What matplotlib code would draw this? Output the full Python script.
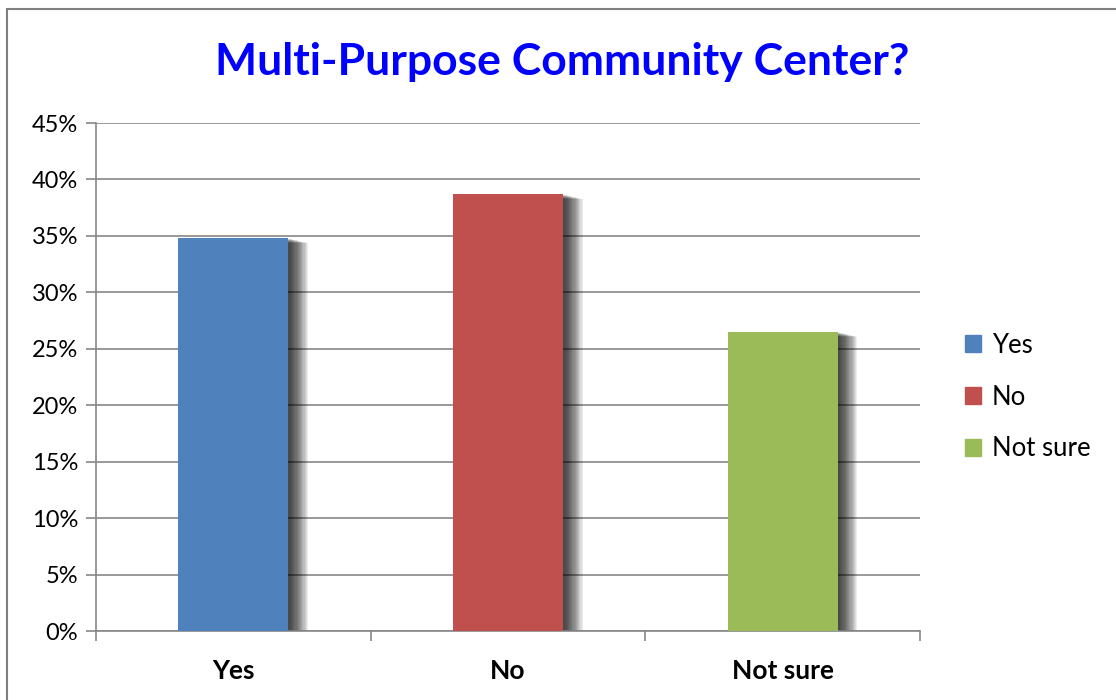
import matplotlib.pyplot as plt
from matplotlib.patches import Rectangle
from matplotlib.ticker import PercentFormatter

categories = ["Yes", "No", "Not sure"]
values = [34.8, 38.7, 26.5]
colors = ["#4F81BD", "#C0504D", "#9BBB59"]
y_ticks = [0, 5, 10, 15, 20, 25, 30, 35, 40, 45]

plt.rcParams['font.family'] = ['Lato', 'DejaVu Sans']

fig = plt.figure(figsize=(11.16, 7), dpi=100)
ax = fig.add_axes([96 / 1116, 69 / 700, 824 / 1116, 508 / 700])

# chart frame
fig.patches.append(Rectangle((7 / 1116, -0.01), 1.1, 1 - 9 / 700 + 0.01,
                             transform=fig.transFigure, fill=False,
                             edgecolor='#7f7f7f', linewidth=1.5))

x = list(range(len(categories)))
width = 0.4

# soft shadow behind bars
for i, v in enumerate(values):
    for k in range(16):
        off = 0.003 + k * 0.0014
        ax.add_patch(Rectangle((i - width / 2 + off * 3, -0.4), width, v + 0.4 - off * 18,
                               facecolor='black', alpha=0.07, linewidth=0, zorder=2))

bars = ax.bar(x, values, width=width, color=colors, zorder=3, label=None)

ax.set_xlim(-0.5, 2.5)
ax.set_ylim(0, 45)
ax.set_yticks(y_ticks)
ax.yaxis.set_major_formatter(PercentFormatter(decimals=0))
ax.set_xticks([-0.5, 0.5, 1.5, 2.5], minor=False)
ax.set_xticklabels([])
ax.set_xticks(x, minor=True)
ax.set_xticklabels(categories, minor=True, fontsize=19, fontweight='bold')
ax.tick_params(axis='x', which='minor', length=0, pad=20)
ax.tick_params(axis='x', which='major', length=7, color='#878787', width=1.2)
ax.tick_params(axis='y', length=7, color='#878787', width=1.2, labelsize=17, pad=6)

ax.grid(axis='y', color='#878787', linewidth=1.2, zorder=0)
for side in ['top', 'right']:
    ax.spines[side].set_visible(False)
for side in ['left', 'bottom']:
    ax.spines[side].set_color('#878787')
    ax.spines[side].set_linewidth(1.2)

fig.text(562 / 1116, 1 - 62 / 700, "Multi-Purpose Community Center?", ha='center', va='center',
         fontsize=32, fontweight='bold', color='#0000FF')

handles = [Rectangle((0, 0), 1, 1, color=c) for c in colors]
fig.legend(handles, categories, loc='center left', bbox_to_anchor=(942 / 1116, 1 - 397 / 700),
           frameon=False, fontsize=18.5, handlelength=0.6, handleheight=0.6,
           labelspacing=1.05, handletextpad=0.45)

plt.savefig("out.png", dpi=100)
